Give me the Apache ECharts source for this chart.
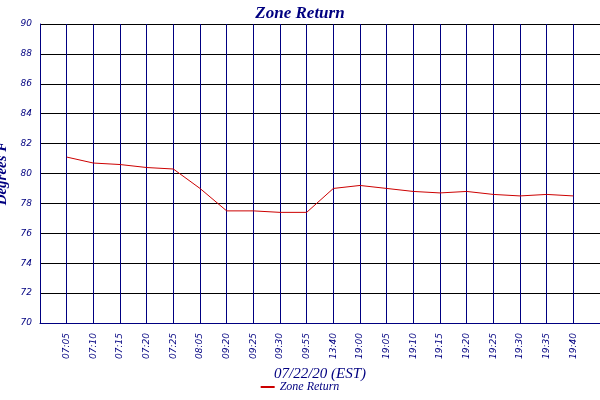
<!DOCTYPE html>
<html><head><meta charset="utf-8">
<script src="https://cdn.jsdelivr.net/npm/echarts@6/dist/echarts.min.js"></script>
<style>html,body{margin:0;background:#fff}#c{width:600px;height:400px}</style>
</head><body><div id="c"></div>
<script>
// x轴时间（首尾留空位）
var times = ['', '07:05','07:10','07:15','07:20','07:25','08:05','09:20','09:25','09:30','09:55',
    '13:40','19:00','19:05','19:10','19:15','19:20','19:25','19:30','19:35','19:40', ''];
var zoneReturn = [null, 81.1, 80.7, 80.6, 80.4, 80.3, 79.0, 77.5, 77.5, 77.4, 77.4,
    79.0, 79.2, 79.0, 78.8, 78.7, 78.8, 78.6, 78.5, 78.6, 78.5, null];

var chart = echarts.init(document.getElementById('c'));
var navy = '#000080';
var font = 'Liberation Serif';
chart.setOption({
    animation: false,
    title: {
        text: 'Zone Return', left: 'center', top: 0,
        textStyle: { color: navy, fontFamily: font, fontStyle: 'italic', fontWeight: 'bold', fontSize: 17 }
    },
    legend: {
        bottom: 2, left: 'center', itemWidth: 14, itemHeight: 2, icon: 'rect',
        textStyle: { color: navy, fontFamily: font, fontStyle: 'italic', fontSize: 12 },
        data: ['Zone Return']
    },
    grid: { left: 40, right: 0, top: 24, bottom: 77, containLabel: false, outerBoundsMode: 'none' },
    xAxis: {
        type: 'category', data: times, boundaryGap: false,
        name: '07/22/20 (EST)', nameLocation: 'middle', nameGap: 43,
        nameTextStyle: { color: navy, fontFamily: font, fontStyle: 'italic', fontSize: 15 },
        axisLine: { lineStyle: { color: navy } },
        axisTick: { show: false },
        axisLabel: { rotate: 90, color: navy, fontFamily: 'DejaVu Sans', fontStyle: 'italic', fontSize: 9, interval: 0, margin: 10 },
        splitLine: { show: true, lineStyle: { color: navy, width: 1 } }
    },
    yAxis: {
        type: 'value', min: 70, max: 90, interval: 2,
        name: 'Degrees F', nameLocation: 'middle', nameGap: 28,
        nameTextStyle: { color: navy, fontFamily: font, fontStyle: 'italic', fontWeight: 'bold', fontSize: 15 },
        axisLine: { show: true, lineStyle: { color: navy } },
        axisTick: { show: false },
        axisLabel: { color: navy, fontFamily: 'DejaVu Sans', fontStyle: 'italic', fontSize: 9, margin: 8 },
        splitLine: { lineStyle: { color: '#000000', width: 1 } }
    },
    series: [{
        name: 'Zone Return', type: 'line', data: zoneReturn,
        showSymbol: false, connectNulls: false,
        lineStyle: { color: '#cc0000', width: 1 }, itemStyle: { color: '#cc0000' }
    }]
});
</script></body></html>
